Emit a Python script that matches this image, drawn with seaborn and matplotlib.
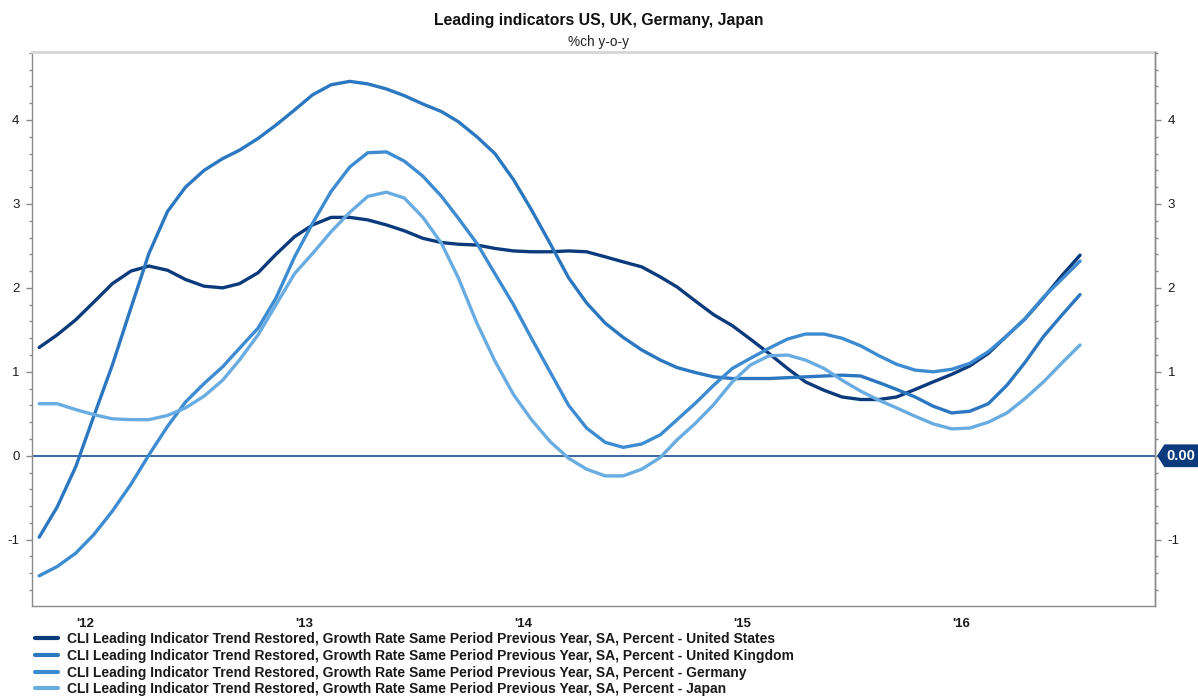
import numpy as np
import pandas as pd
import matplotlib
matplotlib.use("Agg")
import matplotlib.pyplot as plt
import matplotlib.dates as mdates
from matplotlib.path import Path
from matplotlib.lines import Line2D
from matplotlib.ticker import MultipleLocator, FixedLocator, FuncFormatter
import seaborn as sns

# Monthly observations, stamped mid-month
months = pd.date_range("2012-04-01", periods=58, freq="MS") + pd.Timedelta(days=14)

united_states = [1.29, 1.44, 1.62, 1.83, 2.05, 2.20, 2.26, 2.21, 2.10, 2.02,
                 2.00, 2.05, 2.18, 2.40, 2.61, 2.75, 2.84, 2.84, 2.81, 2.75,
                 2.68, 2.59, 2.54, 2.52, 2.51, 2.47, 2.44, 2.43, 2.43, 2.44,
                 2.43, 2.37, 2.31, 2.25, 2.13, 2.01, 1.84, 1.68, 1.55, 1.39,
                 1.22, 1.04, 0.88, 0.78, 0.70, 0.67, 0.67, 0.70, 0.79, 0.88,
                 0.97, 1.07, 1.22, 1.43, 1.63, 1.88, 2.14, 2.39]
united_kingdom = [-0.97, -0.61, -0.13, 0.47, 1.08, 1.76, 2.41, 2.91, 3.20, 3.40,
                  3.54, 3.64, 3.78, 3.94, 4.12, 4.30, 4.42, 4.46, 4.43, 4.37,
                  4.29, 4.19, 4.10, 3.98, 3.80, 3.60, 3.29, 2.93, 2.53, 2.12,
                  1.82, 1.58, 1.41, 1.26, 1.14, 1.05, 0.99, 0.94, 0.92, 0.92,
                  0.92, 0.93, 0.94, 0.95, 0.96, 0.95, 0.87, 0.79, 0.70, 0.59,
                  0.51, 0.53, 0.62, 0.84, 1.11, 1.42, 1.67, 1.92]
germany = [-1.43, -1.32, -1.16, -0.94, -0.66, -0.34, 0.01, 0.35, 0.64, 0.86,
           1.06, 1.28, 1.52, 1.88, 2.37, 2.77, 3.15, 3.44, 3.61, 3.62,
           3.51, 3.33, 3.09, 2.83, 2.53, 2.17, 1.80, 1.40, 1.00, 0.60,
           0.33, 0.16, 0.10, 0.14, 0.25, 0.43, 0.63, 0.84, 1.04, 1.16,
           1.28, 1.39, 1.45, 1.45, 1.40, 1.31, 1.19, 1.09, 1.02, 1.00,
           1.03, 1.10, 1.24, 1.43, 1.63, 1.89, 2.10, 2.32]
japan = [0.62, 0.62, 0.55, 0.49, 0.44, 0.43, 0.43, 0.48, 0.57, 0.71,
         0.90, 1.14, 1.44, 1.80, 2.17, 2.41, 2.67, 2.90, 3.09, 3.14,
         3.07, 2.84, 2.53, 2.12, 1.58, 1.13, 0.73, 0.43, 0.17, -0.03,
         -0.16, -0.24, -0.24, -0.16, -0.02, 0.19, 0.39, 0.61, 0.88, 1.08,
         1.19, 1.20, 1.14, 1.04, 0.90, 0.77, 0.66, 0.57, 0.47, 0.38,
         0.32, 0.33, 0.40, 0.51, 0.68, 0.88, 1.10, 1.32]

countries = ["United States", "United Kingdom", "Germany", "Japan"]
series_prefix = ("CLI Leading Indicator Trend Restored, Growth Rate Same Period "
                 "Previous Year, SA, Percent - ")
labels = [series_prefix + c for c in countries]
colors = ["#0b3b7c", "#2b77c0", "#3d8bd1", "#68ace2"]

title = "Leading indicators US, UK, Germany, Japan"
subtitle = "%ch y-o-y"
zero_tag = "0.00"
y_ticks = [-1, 0, 1, 2, 3, 4]

df = pd.DataFrame({
    "date": np.tile(months, 4),
    "value": np.concatenate([united_states, united_kingdom, germany, japan]),
    "series": np.repeat(labels, len(months)),
})

sns.set_theme(style="white")
plt.rcParams["font.family"] = ["Liberation Sans", "DejaVu Sans"]
plt.rcParams["axes.unicode_minus"] = False

W, H = 1198, 698
fig = plt.figure(figsize=(W / 100, H / 100), dpi=100)
fig.patch.set_facecolor("white")
ax = fig.add_axes([32 / W, 1 - 606 / H, (1155 - 32) / W, (606 - 52) / H])
ax.set_facecolor("white")

sns.lineplot(data=df, x="date", y="value", hue="series", hue_order=labels,
             palette=colors, linewidth=2.4, ax=ax, legend=False, sort=False,
             zorder=3)

ax.axhline(0, color="#2c5c98", lw=1.3, zorder=2)

ax.set_xlim(pd.Timestamp("2012-04-03"), pd.Timestamp("2017-05-20"))
ax.set_ylim(-1.79, 4.81)
ax.set_xlabel("")
ax.set_ylabel("")

# x axis: long ticks at year boundaries, quarterly ticks, year label mid-year
ax.xaxis.set_major_locator(mdates.YearLocator())
ax.xaxis.set_major_formatter(FuncFormatter(lambda v, p: ""))
ax.xaxis.set_minor_locator(mdates.MonthLocator(bymonth=[4, 7, 10]))


def year_label(v, pos):
    d = mdates.num2date(v)
    return "'" + d.strftime("%y") if d.month == 7 else ""


ax.xaxis.set_minor_formatter(FuncFormatter(year_label))
ax.tick_params(axis="x", which="major", direction="out", length=6, width=1,
               color="#8a8a8a")
ax.tick_params(axis="x", which="minor", direction="out", length=3.5, width=1,
               color="#8a8a8a", labelsize=9.5, pad=5, labelcolor="#1a1a1a")
for lbl in ax.get_xticklabels(minor=True):
    lbl.set_fontweight("bold")

# left value axis
ax.yaxis.set_major_locator(FixedLocator(y_ticks))
ax.yaxis.set_minor_locator(MultipleLocator(0.2))
ax.yaxis.set_major_formatter(FuncFormatter(lambda v, p: "%d" % v))
ax.tick_params(axis="y", which="both", left=True, right=False,
               labelleft=True, labelright=False, direction="out",
               color="#8a8a8a", width=1)
ax.tick_params(axis="y", which="major", length=4, labelsize=9.5, pad=5,
               labelcolor="#1a1a1a")
ax.tick_params(axis="y", which="minor", length=2.5)

# right value axis; its zero carries the value tag instead of a label
ax_r = ax.twinx()
ax_r.set_ylim(ax.get_ylim())
ax_r.yaxis.set_major_locator(FixedLocator(y_ticks))
ax_r.yaxis.set_minor_locator(MultipleLocator(0.2))
ax_r.yaxis.set_major_formatter(FuncFormatter(lambda v, p: "" if v == 0 else "%d" % v))
ax_r.tick_params(axis="y", which="both", direction="out", color="#8a8a8a",
                 width=1)
ax_r.tick_params(axis="y", which="major", length=4, labelsize=9.5, pad=5,
                 labelcolor="#1a1a1a")
ax_r.tick_params(axis="y", which="minor", length=2.5)
ax_r.grid(False)
for side in ["left", "top", "bottom"]:
    ax_r.spines[side].set_visible(False)
ax_r.spines["right"].set_color("#8a8a8a")
ax_r.spines["right"].set_linewidth(1)

for side in ["left", "right", "bottom"]:
    ax.spines[side].set_color("#8a8a8a")
    ax.spines[side].set_linewidth(1)
ax.spines["top"].set_color("#d6d6d6")
ax.spines["top"].set_linewidth(2)


def tag_shape(x0, y0, width, height, mutation_size):
    pad = 0.3 * mutation_size
    top, bottom = y0 + height + pad, y0 - pad
    left, right = x0 - pad * 0.4, x0 + width + pad * 4
    tip = left - (top - bottom) * 0.32
    verts = [(left, bottom), (right, bottom), (right, top), (left, top),
             (tip, (top + bottom) / 2), (left, bottom)]
    return Path(verts, closed=True)


ax_r.annotate(zero_tag, xy=(1, 0), xycoords=ax_r.get_yaxis_transform(),
              xytext=(8, 0), textcoords="offset points", ha="left",
              va="center", color="white", fontsize=10.5, fontweight="bold",
              zorder=10, annotation_clip=False,
              bbox=dict(boxstyle=tag_shape, fc="#0b3b7c", ec="none"))

fig.text(0.5, 1 - 20 / H, title, ha="center", va="center", fontsize=11.3,
         fontweight="bold", color="#111111")
fig.text(0.5, 1 - 42 / H, subtitle, ha="center", va="center", fontsize=9.8,
         color="#222222")

handles = [Line2D([], [], color=c, lw=3) for c in colors]
leg = fig.legend(handles, labels, loc="upper left",
                 bbox_to_anchor=(35 / W, 1 - 632 / H), frameon=False,
                 prop=dict(weight="bold", size=10.0), handlelength=1.65,
                 handletextpad=0.65, labelspacing=0.2, borderaxespad=0,
                 borderpad=0)
for t in leg.get_texts():
    t.set_color("#1a1a1a")

fig.savefig("out.png", dpi=100, facecolor="white")
